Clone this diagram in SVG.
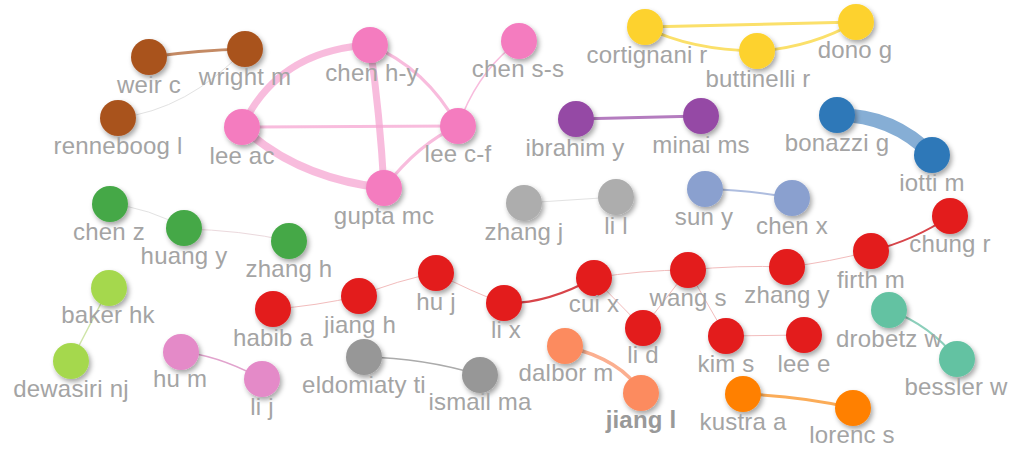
<svg xmlns="http://www.w3.org/2000/svg" width="1014" height="453" viewBox="0 0 1014 453">
<defs>
<filter id="sh" x="-50%" y="-50%" width="200%" height="200%">
<feDropShadow dx="2" dy="3" stdDeviation="2.5" flood-color="#000" flood-opacity="0.35"/>
</filter>
<style>
.e{fill:none;stroke-linecap:round}
.n{filter:url(#sh)}
.l{font-family:"Liberation Sans",Arial,sans-serif;font-size:24px;fill:#a4a4a4;text-anchor:middle;letter-spacing:0.2px}
.b{font-weight:bold;fill:#999}
.thin{stroke:#e2e2e2;stroke-width:1}
.pk{stroke:#f5a6d2;stroke-opacity:0.75}
.rd{stroke:#f2bcbc;stroke-width:1}
.rdk{stroke:#d8454a;stroke-width:2}
</style>
</defs>
<rect width="1014" height="453" fill="#fff"/>
<g id="connectors">
<path class="e" d="M149,57 Q200,50 245,49" stroke="#c48a64" stroke-width="3"/>
<path class="e thin" d="M118,118 Q188,110 245,49"/>
<path class="e pk" d="M242,127 Q278,50 370,45" stroke-width="7"/>
<path class="e pk" d="M242,127 Q297,178 384,188" stroke-width="8"/>
<path class="e pk" d="M370,45 Q380,115 384,188" stroke-width="7"/>
<path class="e pk" d="M242,127 L458,126" stroke-width="3"/>
<path class="e pk" d="M370,45 Q426,68 458,126" stroke-width="3"/>
<path class="e pk" d="M384,188 Q419,143 458,126" stroke-width="3"/>
<path class="e pk" d="M458,126 Q478,70 519,41" stroke-width="1.5"/>
<path class="e" d="M645,27 L856,22" stroke="#fbe06a" stroke-width="3"/>
<path class="e" d="M645,27 Q690,50 757,51" stroke="#fbe06a" stroke-width="3"/>
<path class="e" d="M757,51 Q810,48 856,22" stroke="#fbe06a" stroke-width="3"/>
<path class="e" d="M576,119 L701,116" stroke="#b47cbf" stroke-width="3"/>
<path class="e" d="M837,115 Q893,115 932,155" stroke="#86aed5" stroke-width="14"/>
<path class="e" d="M705,189 Q750,190 792,198" stroke="#aebddf" stroke-width="2"/>
<path class="e thin" d="M524,203 L616,197"/>
<path class="e thin" d="M110,204 Q150,208 184,228"/>
<path class="e" d="M184,229 Q240,230 289,241" stroke="#ebd9dd" stroke-width="1"/>
<path class="e" d="M109,288 L71,361" stroke="#cfe5a8" stroke-width="1.5"/>
<path class="e" d="M181,352 Q218,355 262,379" stroke="#e1a3cd" stroke-width="1.5"/>
<path class="e" d="M364,357 Q424,358 480,375" stroke="#ababab" stroke-width="1.5"/>
<path class="e" d="M565,346 Q623,360 641,393" stroke="#fbaf90" stroke-width="3.5"/>
<path class="e" d="M743,394 Q800,396 853,408" stroke="#fbac58" stroke-width="3"/>
<path class="e" d="M889,310 Q930,325 957,359" stroke="#8ccfbb" stroke-width="2"/>
<path class="e rd" d="M273,309 Q316,306 359,296"/>
<path class="e rd" d="M359,296 Q398,280 436,273"/>
<path class="e rd" d="M436,273 Q472,292 503,303"/>
<path class="e rdk" d="M503,303 Q545,305 594,278"/>
<path class="e rd" d="M594,278 Q641,270 688,270"/>
<path class="e rd" d="M594,278 L643,328"/>
<path class="e rd" d="M643,328 L688,270"/>
<path class="e rd" d="M688,270 L726,336"/>
<path class="e rd" d="M688,270 Q738,265 787,267"/>
<path class="e rd" d="M787,267 Q830,262 871,251"/>
<path class="e rdk" d="M871,251 Q915,240 950,216"/>
<path class="e rd" d="M726,336 L804,335"/>
</g>
<g id="nodes">
<g id="n-weir-c"><circle class="n" cx="149" cy="57" r="18" fill="#a9531f"/><text class="l" x="149" y="93">weir c</text></g>
<g id="n-wright-m"><circle class="n" cx="245" cy="49" r="18" fill="#a9531f"/><text class="l" x="245" y="85">wright m</text></g>
<g id="n-renneboog-l"><circle class="n" cx="118" cy="118" r="18" fill="#a9531f"/><text class="l" x="118" y="154">renneboog l</text></g>
<g id="n-lee-ac"><circle class="n" cx="242" cy="127" r="18" fill="#f47cbf"/><text class="l" x="242" y="164">lee ac</text></g>
<g id="n-chen-h-y"><circle class="n" cx="370" cy="45" r="18" fill="#f47cbf"/><text class="l" x="372" y="81">chen h-y</text></g>
<g id="n-lee-c-f"><circle class="n" cx="458" cy="126" r="18" fill="#f47cbf"/><text class="l" x="458" y="162">lee c-f</text></g>
<g id="n-gupta-mc"><circle class="n" cx="384" cy="188" r="18" fill="#f47cbf"/><text class="l" x="384" y="224">gupta mc</text></g>
<g id="n-chen-s-s"><circle class="n" cx="519" cy="41" r="18" fill="#f47cbf"/><text class="l" x="518" y="77">chen s-s</text></g>
<g id="n-cortignani-r"><circle class="n" cx="645" cy="27" r="18" fill="#fdd22e"/><text class="l" x="647" y="63">cortignani r</text></g>
<g id="n-buttinelli-r"><circle class="n" cx="757" cy="51" r="18" fill="#fdd22e"/><text class="l" x="758" y="87">buttinelli r</text></g>
<g id="n-dono-g"><circle class="n" cx="856" cy="22" r="18" fill="#fdd22e"/><text class="l" x="855" y="58">dono g</text></g>
<g id="n-ibrahim-y"><circle class="n" cx="576" cy="119" r="18" fill="#9548a5"/><text class="l" x="575" y="156">ibrahim y</text></g>
<g id="n-minai-ms"><circle class="n" cx="701" cy="116" r="18" fill="#9548a5"/><text class="l" x="701" y="153">minai ms</text></g>
<g id="n-bonazzi-g"><circle class="n" cx="837" cy="115" r="18" fill="#2e78b8"/><text class="l" x="837" y="151">bonazzi g</text></g>
<g id="n-iotti-m"><circle class="n" cx="932" cy="155" r="18" fill="#2e78b8"/><text class="l" x="932" y="191">iotti m</text></g>
<g id="n-sun-y"><circle class="n" cx="705" cy="189" r="18" fill="#8aa0cf"/><text class="l" x="704" y="225">sun y</text></g>
<g id="n-chen-x"><circle class="n" cx="792" cy="198" r="18" fill="#8aa0cf"/><text class="l" x="792" y="234">chen x</text></g>
<g id="n-zhang-j"><circle class="n" cx="524" cy="203" r="18" fill="#adadad"/><text class="l" x="524" y="240">zhang j</text></g>
<g id="n-li-l"><circle class="n" cx="616" cy="197" r="18" fill="#adadad"/><text class="l" x="616" y="234">li l</text></g>
<g id="n-chen-z"><circle class="n" cx="110" cy="204" r="18" fill="#44a846"/><text class="l" x="109" y="240">chen z</text></g>
<g id="n-huang-y"><circle class="n" cx="184" cy="228" r="18" fill="#44a846"/><text class="l" x="184" y="264">huang y</text></g>
<g id="n-zhang-h"><circle class="n" cx="289" cy="241" r="18" fill="#44a846"/><text class="l" x="289" y="277">zhang h</text></g>
<g id="n-baker-hk"><circle class="n" cx="109" cy="288" r="18" fill="#a5d84e"/><text class="l" x="108" y="323">baker hk</text></g>
<g id="n-dewasiri-nj"><circle class="n" cx="71" cy="361" r="18" fill="#a5d84e"/><text class="l" x="71" y="397">dewasiri nj</text></g>
<g id="n-hu-m"><circle class="n" cx="181" cy="352" r="18" fill="#e48ac8"/><text class="l" x="180" y="387">hu m</text></g>
<g id="n-li-j"><circle class="n" cx="262" cy="379" r="18" fill="#e48ac8"/><text class="l" x="262" y="415">li j</text></g>
<g id="n-eldomiaty-ti"><circle class="n" cx="364" cy="357" r="18" fill="#979797"/><text class="l" x="364" y="393">eldomiaty ti</text></g>
<g id="n-ismail-ma"><circle class="n" cx="480" cy="375" r="18" fill="#979797"/><text class="l" x="480" y="410">ismail ma</text></g>
<g id="n-dalbor-m"><circle class="n" cx="565" cy="346" r="18" fill="#fc8b5e"/><text class="l" x="566" y="381">dalbor m</text></g>
<g id="n-jiang-l"><circle class="n" cx="641" cy="393" r="18" fill="#fc8b5e"/><text class="l b" x="641" y="428">jiang l</text></g>
<g id="n-kustra-a"><circle class="n" cx="743" cy="394" r="18" fill="#ff8000"/><text class="l" x="743" y="430">kustra a</text></g>
<g id="n-lorenc-s"><circle class="n" cx="853" cy="408" r="18" fill="#ff8000"/><text class="l" x="852" y="443">lorenc s</text></g>
<g id="n-drobetz-w"><circle class="n" cx="889" cy="310" r="18" fill="#64c2a2"/><text class="l" x="889" y="347">drobetz w</text></g>
<g id="n-bessler-w"><circle class="n" cx="957" cy="359" r="18" fill="#64c2a2"/><text class="l" x="956" y="395">bessler w</text></g>
<g id="n-habib-a"><circle class="n" cx="273" cy="309" r="18" fill="#e31a1c"/><text class="l" x="273" y="346">habib a</text></g>
<g id="n-jiang-h"><circle class="n" cx="359" cy="296" r="18" fill="#e31a1c"/><text class="l" x="360" y="333">jiang h</text></g>
<g id="n-hu-j"><circle class="n" cx="436" cy="273" r="18" fill="#e31a1c"/><text class="l" x="436" y="310">hu j</text></g>
<g id="n-li-x"><circle class="n" cx="504" cy="303" r="18" fill="#e31a1c"/><text class="l" x="506" y="338">li x</text></g>
<g id="n-cui-x"><circle class="n" cx="594" cy="278" r="18" fill="#e31a1c"/><text class="l" x="594" y="312">cui x</text></g>
<g id="n-li-d"><circle class="n" cx="643" cy="328" r="18" fill="#e31a1c"/><text class="l" x="643" y="363">li d</text></g>
<g id="n-wang-s"><circle class="n" cx="688" cy="270" r="18" fill="#e31a1c"/><text class="l" x="688" y="306">wang s</text></g>
<g id="n-kim-s"><circle class="n" cx="726" cy="336" r="18" fill="#e31a1c"/><text class="l" x="726" y="372">kim s</text></g>
<g id="n-lee-e"><circle class="n" cx="804" cy="335" r="18" fill="#e31a1c"/><text class="l" x="804" y="372">lee e</text></g>
<g id="n-zhang-y"><circle class="n" cx="787" cy="267" r="18" fill="#e31a1c"/><text class="l" x="787" y="303">zhang y</text></g>
<g id="n-firth-m"><circle class="n" cx="871" cy="251" r="18" fill="#e31a1c"/><text class="l" x="871" y="288">firth m</text></g>
<g id="n-chung-r"><circle class="n" cx="950" cy="216" r="18" fill="#e31a1c"/><text class="l" x="950" y="252">chung r</text></g>
</g>
</svg>
